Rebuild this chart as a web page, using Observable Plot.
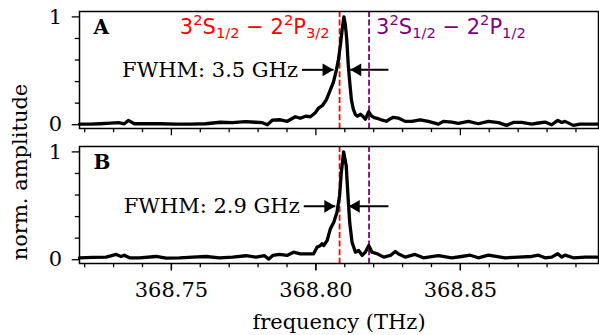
<!DOCTYPE html>
<html><head><meta charset="utf-8">
<script src="https://cdn.jsdelivr.net/npm/d3@7"></script>
<script src="https://cdn.jsdelivr.net/npm/@observablehq/plot@0.6"></script>
<style>body{margin:0;background:#fff}</style>
</head><body><div id="chart"></div>
<script>
const panels = ["A", "B"];
const freqA = [368.7182, 368.7220, 368.7254, 368.7289, 368.7317, 368.7337, 368.7351, 368.7372, 368.7410, 368.7462, 368.7514, 368.7566, 368.7618, 368.7670, 368.7711, 368.7756, 368.7791, 368.7815, 368.7832, 368.7849, 368.7877, 368.7901, 368.7929, 368.7946, 368.7964, 368.7981, 368.7998, 368.8009, 368.8022, 368.8036, 368.8050, 368.8061, 368.8071, 368.8078, 368.8085, 368.8092, 368.8097, 368.8102, 368.8107, 368.8112, 368.8118, 368.8123, 368.8130, 368.8137, 368.8144, 368.8154, 368.8164, 368.8171, 368.8183, 368.8192, 368.8202, 368.8216, 368.8230, 368.8244, 368.8258, 368.8268, 368.8285, 368.8309, 368.8332, 368.8361, 368.8389, 368.8424, 368.8441, 368.8470, 368.8493, 368.8528, 368.8562, 368.8597, 368.8632, 368.8660, 368.8683, 368.8712, 368.8747, 368.8770, 368.8793, 368.8816, 368.8837, 368.8851, 368.8862, 368.8891, 368.8914, 368.8978];
const ampA = [0.006, 0.006, 0.009, 0.014, 0.019, 0.009, 0.040, 0.009, 0.009, 0.009, 0.005, 0.006, 0.009, 0.023, 0.019, 0.028, 0.023, 0.019, 0.000, 0.042, 0.046, 0.032, 0.074, 0.060, 0.079, 0.074, 0.111, 0.153, 0.176, 0.231, 0.324, 0.398, 0.509, 0.602, 0.741, 0.907, 1.000, 0.926, 0.787, 0.556, 0.370, 0.231, 0.139, 0.093, 0.079, 0.097, 0.074, 0.051, 0.120, 0.083, 0.065, 0.056, 0.042, 0.032, 0.056, 0.069, 0.062, 0.031, 0.031, 0.046, 0.031, 0.006, 0.031, 0.025, 0.012, 0.031, 0.009, 0.031, 0.019, -0.006, 0.021, 0.021, 0.006, 0.016, 0.025, 0.000, 0.040, 0.021, 0.031, -0.006, 0.006, 0.006];
const freqB = [368.7182, 368.7228, 368.7274, 368.7309, 368.7326, 368.7337, 368.7355, 368.7389, 368.7447, 368.7482, 368.7528, 368.7574, 368.7620, 368.7666, 368.7712, 368.7758, 368.7793, 368.7822, 368.7837, 368.7851, 368.7874, 368.7900, 368.7923, 368.7946, 368.7970, 368.7992, 368.8004, 368.8016, 368.8021, 368.8027, 368.8039, 368.8050, 368.8062, 368.8073, 368.8082, 368.8088, 368.8096, 368.8105, 368.8111, 368.8117, 368.8125, 368.8137, 368.8148, 368.8160, 368.8171, 368.8183, 368.8194, 368.8212, 368.8235, 368.8258, 368.8275, 368.8285, 368.8309, 368.8343, 368.8372, 368.8424, 368.8470, 368.8504, 368.8534, 368.8562, 368.8597, 368.8655, 368.8701, 368.8747, 368.8770, 368.8793, 368.8816, 368.8837, 368.8851, 368.8862, 368.8891, 368.8932, 368.8978];
const ampB = [0.018, 0.021, 0.024, 0.049, 0.030, 0.042, 0.018, 0.018, 0.030, 0.015, 0.018, 0.024, 0.030, 0.018, 0.024, 0.037, 0.024, 0.037, 0.006, 0.040, 0.049, 0.040, 0.070, 0.055, 0.055, 0.055, 0.116, 0.132, 0.148, 0.132, 0.178, 0.286, 0.347, 0.440, 0.594, 0.809, 1.000, 0.871, 0.594, 0.347, 0.163, 0.070, 0.086, 0.040, 0.070, 0.132, 0.070, 0.055, 0.024, 0.040, 0.077, 0.055, 0.024, 0.049, 0.018, 0.037, 0.018, 0.030, 0.042, 0.018, 0.042, 0.018, 0.024, 0.030, 0.042, 0.018, 0.024, 0.055, 0.024, 0.042, 0.018, 0.024, 0.024];

const transitions = [368.8082, 368.8184];
const transitionLabels = ["3^2S_{1/2} − 2^2P_{3/2}", "3^2S_{1/2} − 2^2P_{1/2}"];
const fwhmLabels = ["FWHM: 3.5 GHz", "FWHM: 2.9 GHz"];
const fwhmLevel = [0.509, 0.495];
const arrowLeftTail = [368.7952, 368.7958];
const arrowLeftTip = [368.8061, 368.8067];
const arrowRightTail = [368.8251, 368.8251];
const arrowRightTip = [368.8119, 368.8114];
const xMajorTicks = [368.75, 368.80, 368.85];
const xMinorTicks = [368.72, 368.73, 368.74, 368.76, 368.77, 368.78, 368.79, 368.81, 368.82, 368.83, 368.84, 368.86, 368.87, 368.88, 368.89];
const yMajorTicks = [0, 1];
const yMinorTicks = [0.2, 0.4, 0.6, 0.8];

const RED = "#ff0000", PURPLE = "#800080";

const trace = [
  ...freqA.map((f, i) => ({panel: "A", f, v: ampA[i]})),
  ...freqB.map((f, i) => ({panel: "B", f, v: ampB[i]}))
];
const fwhm = panels.map((p, i) => ({panel: p, label: fwhmLabels[i], y: fwhmLevel[i],
  lt: arrowLeftTail[i], lh: arrowLeftTip[i], rt: arrowRightTail[i], rh: arrowRightTip[i]}));
const trans = transitions.map((f, i) => ({panel: "A", f, label: transitionLabels[i]}));

const LABEL_SIZE = 21;

const chart = Plot.plot({
  width: 599, height: 335,
  marginLeft: 79, marginRight: 1, marginTop: 11, marginBottom: 71,
  style: {fontFamily: "DejaVu Serif", fontSize: "21px", color: "black", background: "white"},
  x: {domain: [368.7182, 368.8978]},
  y: {domain: [-0.035, 1.05]},
  fy: {domain: panels, paddingInner: 0.13, paddingOuter: 0, axis: null},
  marks: [
    Plot.ruleX([transitions[0]], {x: d => d, stroke: RED, strokeWidth: 1.8, strokeDasharray: "6,2.6"}),
    Plot.ruleX([transitions[1]], {x: d => d, stroke: PURPLE, strokeWidth: 1.8, strokeDasharray: "6,2.6"}),
    Plot.line(trace, {x: "f", y: "v", fy: "panel", z: "panel", stroke: "black", strokeWidth: 3.3, strokeLinejoin: "round"}),
    Plot.link(fwhm, {x1: "lt", x2: "lh", y1: "y", y2: "y", fy: "panel", stroke: "black", strokeWidth: 2}),
    Plot.link(fwhm, {x1: "rt", x2: "rh", y1: "y", y2: "y", fy: "panel", stroke: "black", strokeWidth: 2}),
    Plot.dot(fwhm, {x: "lh", y: "y", fy: "panel", symbol: "triangle", r: 4.7, rotate: 90, fill: "black", stroke: "none", dx: -7.3}),
    Plot.dot(fwhm, {x: "rh", y: "y", fy: "panel", symbol: "triangle", r: 4.7, rotate: -90, fill: "black", stroke: "none", dx: 7.3}),
    Plot.text(fwhm, {x: "lt", y: "y", fy: "panel", text: "label", textAnchor: "end", dx: -4, fill: "black"}),
    Plot.text(trans.slice(0, 1), {x: "f", fy: "panel", text: "label", frameAnchor: "top", textAnchor: "end", lineAnchor: "bottom", dy: 22.5, dx: -10, fill: RED, fontFamily: "DejaVu Sans", fontSize: LABEL_SIZE}),
    Plot.text(trans.slice(1), {x: "f", fy: "panel", text: "label", frameAnchor: "top", textAnchor: "start", lineAnchor: "bottom", dy: 22.5, dx: 7, fill: PURPLE, fontFamily: "DejaVu Sans", fontSize: LABEL_SIZE}),
    Plot.text(panels.map(p => ({panel: p})), {fy: "panel", text: "panel", frameAnchor: "top-left", dx: 14, dy: 8, fontWeight: "bold", fontSize: 20, fill: "black"}),
    Plot.frame({stroke: "black", strokeWidth: 1.5}),
    Plot.axisY({ticks: yMajorTicks, tickSize: 7.3, tickPadding: 10, tickFormat: d3.format("d"), strokeWidth: 1.3, label: null}),
    Plot.axisY({ticks: yMinorTicks, tickSize: 4.2, tickFormat: () => "", strokeWidth: 1.3, label: null}),
    Plot.axisX({ticks: xMinorTicks, tickSize: 4.2, tickFormat: () => "", strokeWidth: 1.3, facetAnchor: null, label: null}),
    Plot.axisX({ticks: xMajorTicks, tickSize: 7.3, tickFormat: () => "", strokeWidth: 1.3, facetAnchor: null, label: null}),
    Plot.axisX({ticks: xMajorTicks, tickSize: 7.3, tickPadding: 11.5, tickFormat: d3.format(".2f"), strokeWidth: 1.3,
      label: "frequency (THz)", labelAnchor: "center", labelArrow: "none", labelOffset: 65})
  ]
});

// rich text for sub/superscripts
function richText(el, src, base) {
  el.textContent = "";
  const re = /\^(\{[^}]*\}|[^{])|_(\{[^}]*\}|[^{])|([^^_]+)/g;
  let m, cur = 0;
  const small = base * 0.7;
  while ((m = re.exec(src))) {
    let txt, shift, size;
    if (m[1] !== undefined) { txt = m[1].replace(/[{}]/g, ""); shift = -0.42 * base; size = small; }
    else if (m[2] !== undefined) { txt = m[2].replace(/[{}]/g, ""); shift = 0.18 * base; size = small; }
    else { txt = m[3]; shift = 0; size = base; }
    const t = document.createElementNS("http://www.w3.org/2000/svg", "tspan");
    t.setAttribute("dy", shift - cur);
    t.setAttribute("font-size", size);
    t.textContent = txt;
    el.appendChild(t);
    cur = shift;
  }
}
chart.querySelectorAll("text").forEach(el => {
  if (transitionLabels.includes(el.textContent)) richText(el, el.textContent, LABEL_SIZE);
});

d3.select(chart).append("text")
  .attr("transform", "translate(27,172) rotate(-90)")
  .attr("text-anchor", "middle")
  .attr("font-family", "DejaVu Serif")
  .attr("font-size", 21)
  .attr("fill", "black")
  .text("norm. amplitude");

document.getElementById("chart").appendChild(chart);
</script>
</body></html>
